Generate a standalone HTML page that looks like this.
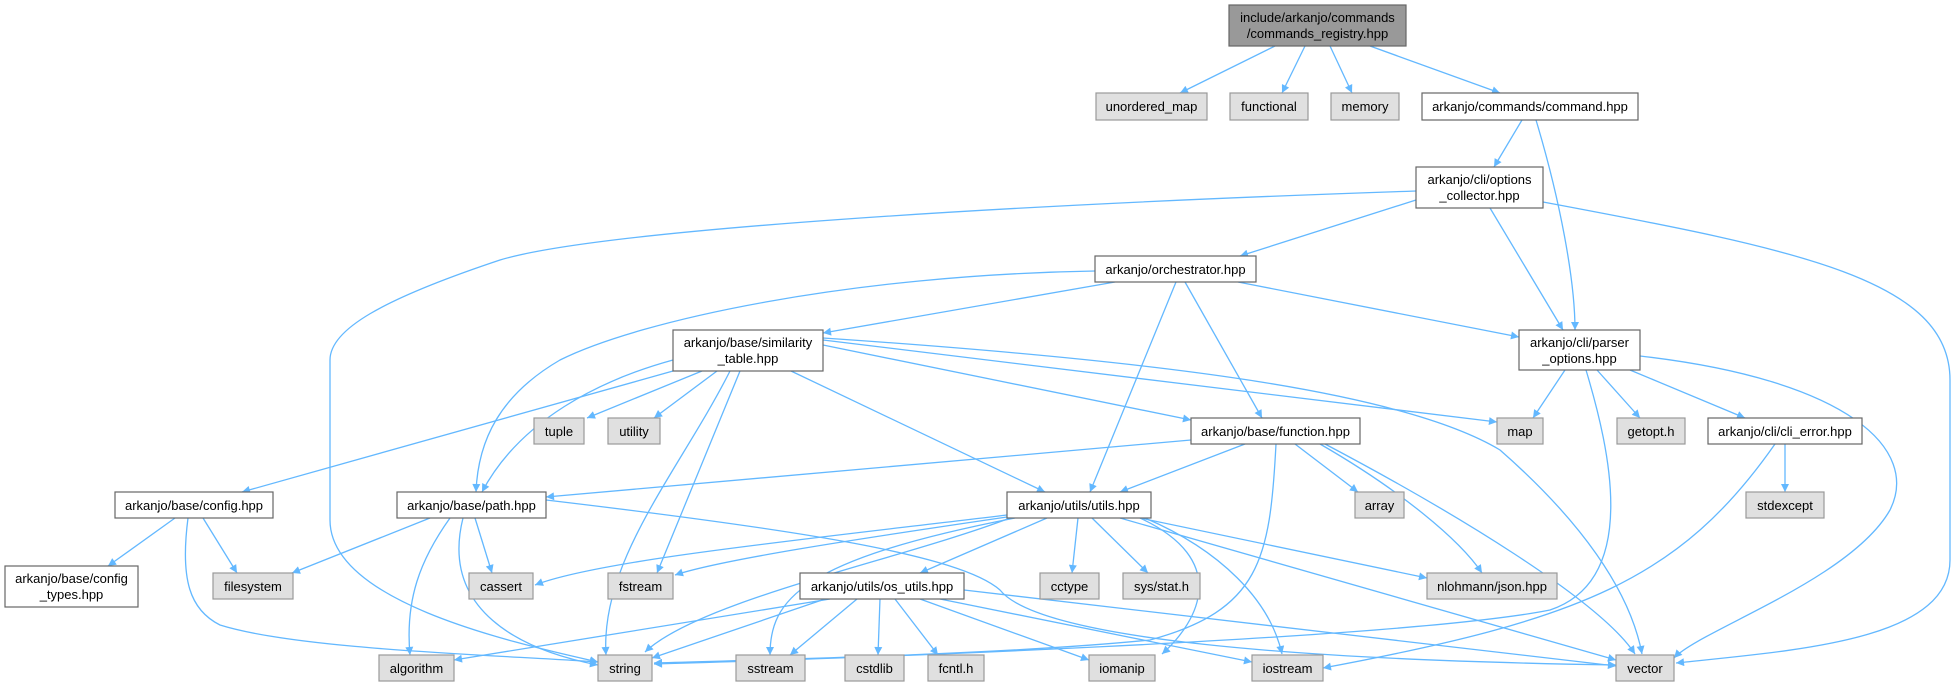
<!DOCTYPE html>
<html><head><meta charset="utf-8"><style>
html,body{margin:0;padding:0;background:#fff;}
svg{display:block;}
text{font-family:"Liberation Sans",Arial,sans-serif;font-size:13px;fill:#000;}
.e{fill:none;stroke:#63b8ff;stroke-width:1.3;}
.w{fill:#fff;stroke:#666;stroke-width:1.2;}
.g{fill:#e0e0e0;stroke:#999;stroke-width:1.2;}
</style></head><body>
<svg width="1956" height="686" viewBox="0 0 1956 686" xmlns="http://www.w3.org/2000/svg">
<defs><marker id="a" viewBox="0 0 10 10" refX="10" refY="5" markerWidth="10" markerHeight="8" markerUnits="userSpaceOnUse" orient="auto"><path d="M0,0 L10,5 L0,10 z" fill="#63b8ff"/></marker></defs>
<g marker-end="url(#a)">
<path class="e" d="M1275,46 L1180,93"/>
<path class="e" d="M1305,46 L1282,93"/>
<path class="e" d="M1330,46 L1352,93"/>
<path class="e" d="M1370,46 L1500,93"/>
<path class="e" d="M1522,120 L1494,167"/>
<path class="e" d="M1536,120 C1560,200 1575,280 1575,330"/>
<path class="e" d="M1416,200 L1240,256"/>
<path class="e" d="M1490,208 L1563,330"/>
<path class="e" d="M1543,202 C1800,250 1950,280 1950,380 L1950,560 C1950,640 1800,650 1676,663"/>
<path class="e" d="M1416,191 C1000,205 600,230 500,260 C380,300 330,330 330,360 L330,520 C330,600 500,640 598,662"/>
<path class="e" d="M1095,271 C850,275 640,320 560,360 C500,395 478,440 476,492"/>
<path class="e" d="M1115,282 L823,333"/>
<path class="e" d="M1176,282 L1090,492"/>
<path class="e" d="M1185,282 L1262,418"/>
<path class="e" d="M1238,282 L1519,337"/>
<path class="e" d="M673,371 L242,492"/>
<path class="e" d="M673,360 C600,380 520,420 482,492"/>
<path class="e" d="M702,371 L587,418"/>
<path class="e" d="M717,371 L654,418"/>
<path class="e" d="M730,371 C680,470 600,560 606,655"/>
<path class="e" d="M740,371 L657,573"/>
<path class="e" d="M791,371 L1045,492"/>
<path class="e" d="M823,345 L1191,420"/>
<path class="e" d="M823,340 L1497,422"/>
<path class="e" d="M823,338 C1150,360 1400,390 1500,450 C1580,520 1630,590 1642,654"/>
<path class="e" d="M1191,440 L546,497"/>
<path class="e" d="M1245,444 L1120,492"/>
<path class="e" d="M1295,444 L1358,492"/>
<path class="e" d="M1320,444 C1400,490 1460,540 1482,573"/>
<path class="e" d="M1325,444 C1450,510 1600,600 1635,654"/>
<path class="e" d="M1276,444 C1270,560 1260,610 1150,640 C1000,655 750,660 654,663"/>
<path class="e" d="M430,518 L292,573"/>
<path class="e" d="M450,518 C420,560 405,600 410,655"/>
<path class="e" d="M463,518 C440,610 520,650 598,665"/>
<path class="e" d="M475,518 L492,573"/>
<path class="e" d="M546,500 C800,530 960,555 1000,590 C1040,640 1300,660 1616,665"/>
<path class="e" d="M175,518 L108,566"/>
<path class="e" d="M203,518 L237,573"/>
<path class="e" d="M188,518 C180,580 190,610 220,625 C300,650 500,655 598,662"/>
<path class="e" d="M1007,515 C800,540 600,560 535,585"/>
<path class="e" d="M1007,517 C850,540 720,560 675,575"/>
<path class="e" d="M1010,518 C900,560 700,600 645,652"/>
<path class="e" d="M1015,518 C800,560 770,600 770,655"/>
<path class="e" d="M1047,518 L920,573"/>
<path class="e" d="M1078,518 L1072,573"/>
<path class="e" d="M1092,518 L1148,573"/>
<path class="e" d="M1140,518 L1427,578"/>
<path class="e" d="M1140,518 C1230,560 1200,620 1162,654"/>
<path class="e" d="M1145,518 C1220,550 1270,600 1282,654"/>
<path class="e" d="M1120,518 L1616,660"/>
<path class="e" d="M830,599 L454,660"/>
<path class="e" d="M825,599 L652,658"/>
<path class="e" d="M857,599 L790,655"/>
<path class="e" d="M880,599 L878,655"/>
<path class="e" d="M895,599 L938,655"/>
<path class="e" d="M920,599 L1089,660"/>
<path class="e" d="M940,599 L1252,662"/>
<path class="e" d="M964,590 L1616,666"/>
<path class="e" d="M1565,370 L1533,418"/>
<path class="e" d="M1597,370 L1640,418"/>
<path class="e" d="M1630,370 L1745,418"/>
<path class="e" d="M1640,356 C1850,380 1920,450 1890,510 C1850,580 1700,630 1674,658"/>
<path class="e" d="M1586,370 C1610,450 1640,580 1550,610 C1400,640 800,660 654,664"/>
<path class="e" d="M1785,444 L1785,492"/>
<path class="e" d="M1775,444 C1680,580 1580,620 1323,668"/>
</g>
<!-- nodes -->
<rect x="1229" y="5" width="177" height="41" fill="#999" stroke="#666" stroke-width="1.2"/>
<text x="1317.5" y="22" text-anchor="middle">include/arkanjo/commands</text>
<text x="1317.5" y="38" text-anchor="middle">/commands_registry.hpp</text>

<rect class="g" x="1096" y="93" width="111" height="27"/><text x="1151.5" y="111" text-anchor="middle">unordered_map</text>
<rect class="g" x="1230" y="93" width="78" height="27"/><text x="1269" y="111" text-anchor="middle">functional</text>
<rect class="g" x="1331" y="93" width="68" height="27"/><text x="1365" y="111" text-anchor="middle">memory</text>
<rect class="w" x="1422" y="93" width="216" height="27"/><text x="1530" y="111" text-anchor="middle">arkanjo/commands/command.hpp</text>

<rect class="w" x="1416" y="167" width="127" height="41"/>
<text x="1479.5" y="184" text-anchor="middle">arkanjo/cli/options</text>
<text x="1479.5" y="200" text-anchor="middle">_collector.hpp</text>

<rect class="w" x="1095" y="256" width="161" height="26"/><text x="1175.5" y="274" text-anchor="middle">arkanjo/orchestrator.hpp</text>

<rect class="w" x="1519" y="330" width="121" height="40"/>
<text x="1579.5" y="347" text-anchor="middle">arkanjo/cli/parser</text>
<text x="1579.5" y="363" text-anchor="middle">_options.hpp</text>

<rect class="w" x="673" y="330" width="150" height="41"/>
<text x="748" y="347" text-anchor="middle">arkanjo/base/similarity</text>
<text x="748" y="363" text-anchor="middle">_table.hpp</text>

<rect class="w" x="1191" y="418" width="169" height="26"/><text x="1275.5" y="436" text-anchor="middle">arkanjo/base/function.hpp</text>
<rect class="g" x="1497" y="418" width="46" height="26"/><text x="1520" y="436" text-anchor="middle">map</text>
<rect class="g" x="1617" y="418" width="68" height="26"/><text x="1651" y="436" text-anchor="middle">getopt.h</text>
<rect class="w" x="1708" y="418" width="154" height="26"/><text x="1785" y="436" text-anchor="middle">arkanjo/cli/cli_error.hpp</text>
<rect class="g" x="534" y="418" width="50" height="26"/><text x="559" y="436" text-anchor="middle">tuple</text>
<rect class="g" x="608" y="418" width="52" height="26"/><text x="634" y="436" text-anchor="middle">utility</text>

<rect class="w" x="115" y="492" width="158" height="26"/><text x="194" y="510" text-anchor="middle">arkanjo/base/config.hpp</text>
<rect class="w" x="397" y="492" width="149" height="26"/><text x="471.5" y="510" text-anchor="middle">arkanjo/base/path.hpp</text>
<rect class="w" x="1007" y="492" width="144" height="26"/><text x="1079" y="510" text-anchor="middle">arkanjo/utils/utils.hpp</text>
<rect class="g" x="1355" y="492" width="49" height="26"/><text x="1379.5" y="510" text-anchor="middle">array</text>
<rect class="g" x="1746" y="492" width="78" height="26"/><text x="1785" y="510" text-anchor="middle">stdexcept</text>

<rect class="w" x="5" y="566" width="133" height="41"/>
<text x="71.5" y="583" text-anchor="middle">arkanjo/base/config</text>
<text x="71.5" y="599" text-anchor="middle">_types.hpp</text>
<rect class="g" x="213" y="573" width="80" height="26"/><text x="253" y="591" text-anchor="middle">filesystem</text>
<rect class="g" x="469" y="573" width="64" height="26"/><text x="501" y="591" text-anchor="middle">cassert</text>
<rect class="g" x="608" y="573" width="65" height="26"/><text x="640.5" y="591" text-anchor="middle">fstream</text>
<rect class="w" x="800" y="573" width="164" height="26"/><text x="882" y="591" text-anchor="middle">arkanjo/utils/os_utils.hpp</text>
<rect class="g" x="1040" y="573" width="59" height="26"/><text x="1069.5" y="591" text-anchor="middle">cctype</text>
<rect class="g" x="1123" y="573" width="77" height="26"/><text x="1161.5" y="591" text-anchor="middle">sys/stat.h</text>
<rect class="g" x="1427" y="573" width="130" height="26"/><text x="1492" y="591" text-anchor="middle">nlohmann/json.hpp</text>

<rect class="g" x="379" y="655" width="75" height="26"/><text x="416.5" y="673" text-anchor="middle">algorithm</text>
<rect class="g" x="598" y="655" width="54" height="26"/><text x="625" y="673" text-anchor="middle">string</text>
<rect class="g" x="736" y="655" width="69" height="26"/><text x="770.5" y="673" text-anchor="middle">sstream</text>
<rect class="g" x="845" y="655" width="59" height="26"/><text x="874.5" y="673" text-anchor="middle">cstdlib</text>
<rect class="g" x="928" y="655" width="56" height="26"/><text x="956" y="673" text-anchor="middle">fcntl.h</text>
<rect class="g" x="1089" y="655" width="66" height="26"/><text x="1122" y="673" text-anchor="middle">iomanip</text>
<rect class="g" x="1252" y="655" width="71" height="26"/><text x="1287.5" y="673" text-anchor="middle">iostream</text>
<rect class="g" x="1616" y="655" width="58" height="26"/><text x="1645" y="673" text-anchor="middle">vector</text>
</svg>
</body></html>
